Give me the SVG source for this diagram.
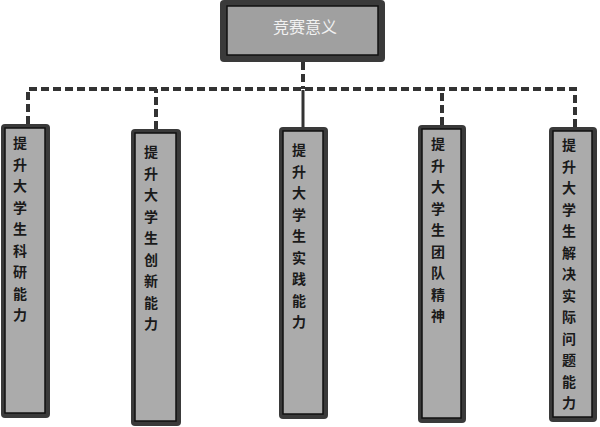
<svg xmlns="http://www.w3.org/2000/svg" width="600" height="427" viewBox="0 0 600 427">
<style>
.dash{fill:none;stroke:#333;stroke-width:4;stroke-dasharray:8 4}
.solid{fill:none;stroke:#333;stroke-width:3}
.outer{fill:#3a3a3a}
.inner{fill:#ababab;stroke:#111;stroke-width:1.5}
.lbl{font-family:"Noto Sans CJK SC","Noto Sans",sans-serif;font-size:14px;font-weight:bold;fill:#1a1a1a;text-anchor:middle}
.title{font-family:"Noto Sans CJK SC","Noto Sans",sans-serif;font-size:16px;fill:#f2f2f2;text-anchor:middle}
</style>
<rect width="600" height="427" fill="#ffffff"/>
<g id="connectors">
<path class="dash" d="M303,62 V89"/>
<path class="dash" d="M28,124 V89 H575 V127"/>
<path class="dash" d="M156,129 V89"/>
<path class="dash" d="M442,125 V89"/>
<path class="solid" d="M303,90 V127"/>
</g>
<g id="root">
<rect class="outer" x="220" y="0" width="165" height="62" rx="4"/>
<rect class="inner" x="227" y="6" width="151" height="49" fill="#a0a0a0" style="fill:#a0a0a0"/>
<text class="title" x="305" y="33">竞赛意义</text>
</g>
<g id="n1">
<rect class="outer" x="1" y="124" width="49" height="294" rx="4"/>
<rect class="inner" x="5" y="128" width="40" height="285"/>
<text class="lbl" x="20" y="148"><tspan x="20" dy="0">提</tspan><tspan x="20" dy="21.5">升</tspan><tspan x="20" dy="21.5">大</tspan><tspan x="20" dy="21.5">学</tspan><tspan x="20" dy="21.5">生</tspan><tspan x="20" dy="21.5">科</tspan><tspan x="20" dy="21.5">研</tspan><tspan x="20" dy="21.5">能</tspan><tspan x="20" dy="21.5">力</tspan></text>
</g>
<g id="n2">
<rect class="outer" x="131" y="129" width="50" height="297" rx="4"/>
<rect class="inner" x="135" y="133" width="41" height="288"/>
<text class="lbl" x="151" y="157"><tspan x="151" dy="0">提</tspan><tspan x="151" dy="21.5">升</tspan><tspan x="151" dy="21.5">大</tspan><tspan x="151" dy="21.5">学</tspan><tspan x="151" dy="21.5">生</tspan><tspan x="151" dy="21.5">创</tspan><tspan x="151" dy="21.5">新</tspan><tspan x="151" dy="21.5">能</tspan><tspan x="151" dy="21.5">力</tspan></text>
</g>
<g id="n3">
<rect class="outer" x="279" y="127" width="49" height="292" rx="4"/>
<rect class="inner" x="283" y="131" width="40" height="283"/>
<text class="lbl" x="299" y="155"><tspan x="299" dy="0">提</tspan><tspan x="299" dy="21.5">升</tspan><tspan x="299" dy="21.5">大</tspan><tspan x="299" dy="21.5">学</tspan><tspan x="299" dy="21.5">生</tspan><tspan x="299" dy="21.5">实</tspan><tspan x="299" dy="21.5">践</tspan><tspan x="299" dy="21.5">能</tspan><tspan x="299" dy="21.5">力</tspan></text>
</g>
<g id="n4">
<rect class="outer" x="418" y="125" width="48" height="298" rx="4"/>
<rect class="inner" x="422" y="129" width="39" height="289"/>
<text class="lbl" x="438" y="149"><tspan x="438" dy="0">提</tspan><tspan x="438" dy="21.5">升</tspan><tspan x="438" dy="21.5">大</tspan><tspan x="438" dy="21.5">学</tspan><tspan x="438" dy="21.5">生</tspan><tspan x="438" dy="21.5">团</tspan><tspan x="438" dy="21.5">队</tspan><tspan x="438" dy="21.5">精</tspan><tspan x="438" dy="21.5">神</tspan></text>
</g>
<g id="n5">
<rect class="outer" x="549" y="127" width="48" height="295" rx="4"/>
<rect class="inner" x="553" y="131" width="39" height="286"/>
<text class="lbl" x="569" y="150"><tspan x="569" dy="0">提</tspan><tspan x="569" dy="21.5">升</tspan><tspan x="569" dy="21.5">大</tspan><tspan x="569" dy="21.5">学</tspan><tspan x="569" dy="21.5">生</tspan><tspan x="569" dy="21.5">解</tspan><tspan x="569" dy="21.5">决</tspan><tspan x="569" dy="21.5">实</tspan><tspan x="569" dy="21.5">际</tspan><tspan x="569" dy="21.5">问</tspan><tspan x="569" dy="21.5">题</tspan><tspan x="569" dy="21.5">能</tspan><tspan x="569" dy="21.5">力</tspan></text>
</g>
</svg>
